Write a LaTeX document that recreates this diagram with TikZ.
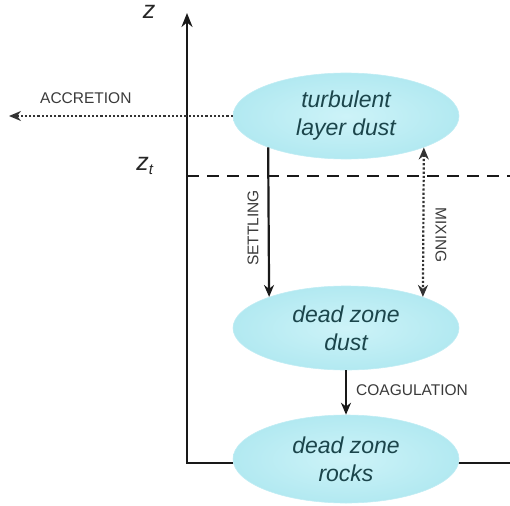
\documentclass[tikz,border=0pt]{standalone}
\usepackage{fontspec}
\setmainfont{Liberation Sans}
\usetikzlibrary{shapes.geometric,arrows.meta}

\definecolor{blobin}{HTML}{CDF3F8}
\definecolor{blobout}{HTML}{B2E9F1}
\definecolor{blobtext}{HTML}{1B454B}
\definecolor{labelgray}{HTML}{3A3A3A}

\tikzset{
  blob/.style={ellipse, minimum width=226pt, minimum height=86pt, inner sep=0pt,
    inner color=blobin, outer color=blobout, draw=blobout!80!white, line width=0.6pt,
    text=blobtext, align=center, font=\fontsize{23}{28}\selectfont\itshape},
  axisline/.style={line width=2.9pt, black!90},
  tip/.style={-{Stealth[length=12pt,width=10pt]}},
  flowsolid/.style={line width=2.2pt, black!90, tip},
  flowdot/.style={line width=2.2pt, black!80, dotted},
  procname/.style={text=labelgray, font=\fontsize{15.5}{17}\selectfont, inner sep=0pt}
}

\begin{document}
\begin{tikzpicture}[x=1pt,y=-1pt]
\useasboundingbox (0,0) rectangle (510,505);

% axes
\coordinate (ztop) at (187,13);
\coordinate (corner) at (187,463);
\coordinate (xend) at (512,463);
\draw[axisline, -{Stealth[length=14pt,width=11pt]}] (xend) -- (corner) -- (ztop);
\node[font=\fontsize{25}{25}\selectfont\itshape, text=black!85] (zlab) at (149,12) {z};
\node[font=\fontsize{25}{25}\selectfont\itshape, text=black!85] (ztlab) at (145,166) {z\textsubscript{\fontsize{15}{15}\selectfont t}};

% top of the dead zone
\coordinate (zt0) at (187,176);
\coordinate (zt1) at (512,176);
\draw[axisline, line width=2.6pt, dash pattern=on 12pt off 8pt] (zt0) -- (zt1);

% dust reservoirs
\node[blob] (turb) at (346,116) {turbulent\\layer dust};
\node[blob, minimum height=84pt] (dzd) at (346,328) {dead zone\\dust};
\node[blob, minimum height=88pt] (rock) at (346,459) {dead zone\\rocks};

% accretion out of the disc
\coordinate (accend) at (9,116);
\draw[flowdot, -{Stealth[length=12pt,width=10pt]}] (turb.west) -- (accend);
\node[procname, anchor=south west] (acclab) at (40,104) {ACCRETION};

% settling
\draw[flowsolid] (turb.202) -- (dzd.158);
\node[procname, rotate=90] (setlab) at (253,228) {SETTLING};

% mixing
\draw[flowdot, {Stealth[length=12pt,width=10pt]}-{Stealth[length=12pt,width=10pt]}] (turb.338) -- (dzd.22);
\node[procname, rotate=-90] (mixlab) at (441,235) {MIXING};

% coagulation
\draw[flowsolid] (dzd.south) -- (rock.north);
\node[procname, anchor=west] (coaglab) at (356,390) {COAGULATION};
\end{tikzpicture}
\end{document}
